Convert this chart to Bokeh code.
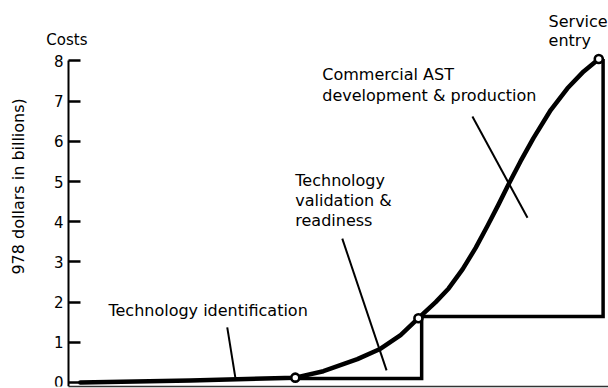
import math
from bokeh.plotting import figure
from bokeh.models import Range1d, FixedTicker
from bokeh.core.properties import value
from bokeh.embed import file_html
from bokeh.resources import INLINE

# cumulative cost curve (1978 dollars, billions) versus program time (arbitrary units)
curve_x = [0.22, 2.26, 4.20, 4.72, 5.35, 5.78, 6.15, 6.48, 6.80, 7.04, 7.30,
           7.54, 7.76, 7.96, 8.15, 8.37, 8.61, 8.93, 9.24, 9.54, 9.82]
curve_y = [0.00, 0.05, 0.12, 0.28, 0.58, 0.84, 1.18, 1.60, 2.00, 2.34, 2.82,
           3.35, 3.90, 4.42, 4.93, 5.50, 6.08, 6.78, 7.32, 7.74, 8.05]

# phase milestones (end of each phase)
milestone_x = [4.20, 6.48, 9.82]
milestone_y = [0.12, 1.60, 8.05]

# phase cost steps
step_x = [4.20, 6.54, 6.54, 9.90, 9.90]
step_y = [0.10, 0.10, 1.64, 1.64, 8.05]

y_ticks = [0, 1, 2, 3, 4, 5, 6, 7, 8]

FONT = "DejaVu Sans"

p = figure(width=608, height=388, output_backend="svg", toolbar_location=None,
           x_range=Range1d(-1.259, 10.0), y_range=Range1d(-0.10, 9.505),
           min_border_left=0, min_border_right=0, min_border_top=0,
           min_border_bottom=2)
p.outline_line_color = None
p.grid.visible = False
p.background_fill_color = "white"

# y axis, drawn at x = 0
ya = p.yaxis[0]
ya.fixed_location = 0
ya.ticker = FixedTicker(ticks=y_ticks)
ya.bounds = (-0.10, 8)
ya.axis_line_width = 2
ya.axis_line_color = "black"
ya.major_tick_in = 12
ya.major_tick_out = 0
ya.major_tick_line_width = 2.5
ya.minor_tick_line_color = None
ya.major_label_standoff = 5
ya.major_label_text_font = FONT
ya.major_label_text_font_size = "15px"
ya.major_label_text_color = "black"

# x axis (baseline only)
xa = p.xaxis[0]
xa.ticker = FixedTicker(ticks=[])
xa.bounds = (0, 10)
xa.major_label_text_font_size = "0px"
xa.major_label_standoff = 0
xa.major_tick_in = 0
xa.major_tick_out = 0
xa.minor_tick_line_color = None
xa.axis_line_width = 1.5
xa.axis_line_color = "#333333"

# steps
p.line(step_x, step_y, line_color="black", line_width=3.5, line_join="miter")
# cost curve
p.line(curve_x, curve_y, line_color="black", line_width=4.5, line_cap="round",
       line_join="round")

# leader lines
p.segment(x0=[2.94, 5.07, 7.48], y0=[1.37, 3.58, 6.62],
          x1=[3.09, 5.89, 8.50], y1=[0.12, 0.30, 4.10],
          line_color="black", line_width=2)

# milestones
p.scatter(milestone_x, milestone_y, marker="circle", size=8,
          fill_color="white", line_color="black", line_width=2.6)

# annotations
tx = [8.89, 8.89, 4.70, 4.70, 4.20, 4.20, 4.20, 0.74]
ty = [8.98, 8.51, 7.66, 7.14, 5.02, 4.53, 4.03, 1.79]
tt = ["Service", "entry", "Commercial AST", "development & production",
      "Technology", "validation &", "readiness", "Technology identification"]
p.text(x=tx, y=ty, text=tt, text_font=value(FONT), text_font_size="16px",
       text_align="left", text_baseline="middle", text_color="black")

p.text(x=[-0.41], y=[8.52], text=["Costs"], text_font=value(FONT),
       text_font_size="15px", text_align="left", text_baseline="middle",
       text_color="black")

# y-axis title
p.text(x=[-0.92], y=[4.88], text=["978 dollars in billions)"], angle=math.pi / 2,
       text_font=value(FONT), text_font_size="16px", text_align="center",
       text_baseline="middle", text_color="black")

open("out.html", "w").write(file_html(p, INLINE))
